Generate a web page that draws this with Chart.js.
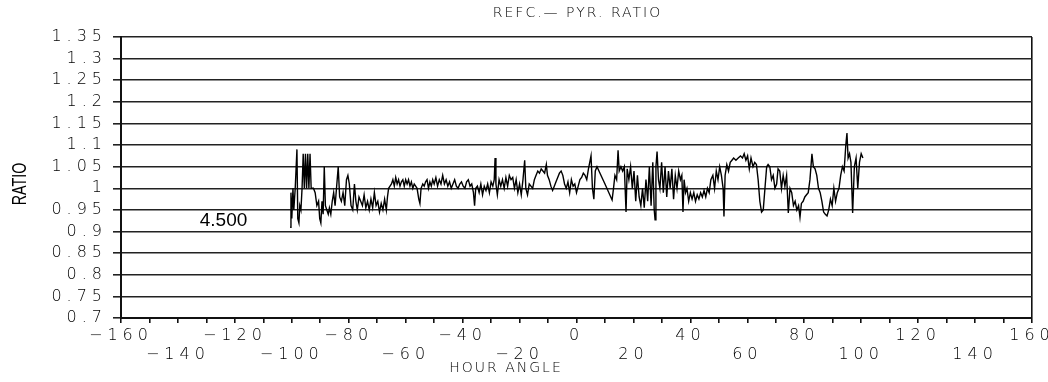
<!DOCTYPE html>
<html>
<head>
<meta charset="utf-8">
<script src="https://cdn.jsdelivr.net/npm/chart.js@4.4.1/dist/chart.umd.min.js"></script>
<style>
  html, body { margin: 0; padding: 0; background: #fff; }
  #wrap { width: 1048px; height: 382px; }
</style>
</head>
<body>
<div id="wrap"><canvas id="ratioChart" width="1048" height="382"></canvas></div>
<script>
// hour angle / ratio readings
const hourAngle = [
  -100.6, -100.3, -100.0, -99.6, -99.3, -98.8, -98.2, -97.9, -97.5, -97.2,
  -96.8, -96.4, -96.0, -95.6, -95.2, -94.8, -94.4, -94.0, -93.6, -93.2,
  -92.4, -91.8, -91.2, -90.6, -90.2, -89.8, -89.4, -89.0, -88.6, -88.2,
  -87.7, -87.2, -86.8, -86.3, -85.8, -85.3, -84.8, -84.3, -83.7, -83.2,
  -82.6, -82.0, -81.4, -80.8, -80.3, -79.8, -79.2, -78.6, -78.0, -77.5,
  -77.0, -76.4, -75.8, -75.2, -74.6, -74.0, -73.4, -72.8, -72.2, -71.6,
  -71.0, -70.4, -69.8, -69.2, -68.6, -68.0, -67.4, -66.8, -66.4, -66.0,
  -65.5, -65.0, -64.5, -64.0, -63.5, -63.0, -62.5, -62.0, -61.5, -61.0,
  -60.5, -60.0, -59.5, -59.0, -58.5, -58.0, -57.5, -57.0, -56.5, -56.0,
  -55.4, -55.0, -54.6, -54.0, -53.5, -53.0, -52.5, -52.0, -51.5, -51.0,
  -50.5, -50.0, -49.4, -48.8, -48.2, -47.6, -47.0, -46.4, -45.8, -45.2,
  -44.6, -44.0, -43.4, -42.8, -42.2, -41.6, -41.0, -40.4, -39.8, -39.2,
  -38.6, -38.0, -37.4, -36.8, -36.2, -35.8, -35.4, -34.8, -34.2, -33.6,
  -33.0, -32.4, -31.8, -31.2, -30.6, -30.0, -29.4, -28.9, -28.6, -28.3,
  -27.8, -27.2, -26.6, -26.0, -25.4, -24.8, -24.2, -23.6, -23.0, -22.4,
  -21.8, -21.2, -20.6, -20.0, -19.4, -18.8, -18.2, -17.8, -17.2, -16.6,
  -16.0, -15.4, -14.8, -14.2, -13.6, -13.0, -12.4, -11.8, -11.2, -10.6,
  -10.2, -9.6, -9.0, -8.4, -7.8, -7.2, -6.6, -6.0, -5.4, -4.8,
  -4.2, -3.6, -3.0, -2.4, -1.8, -1.2, -0.6, 0.0, 0.6, 1.2,
  1.8, 2.4, 3.0, 3.6, 4.2, 5.1, 5.6, 6.1, 6.6, 7.2,
  10.0, 12.5, 13.0, 13.5, 14.1, 14.6, 15.0, 15.6, 16.2, 16.8,
  17.4, 17.8, 18.4, 19.0, 19.6, 20.2, 20.8, 21.4, 22.0, 22.6,
  23.2, 23.8, 24.4, 25.0, 25.6, 26.2, 26.8, 27.3, 27.6, 27.9,
  28.3, 28.8, 29.3, 29.9, 30.5, 31.1, 31.7, 32.3, 32.9, 33.5,
  34.1, 34.7, 35.3, 35.9, 36.5, 37.0, 37.4, 37.8, 38.3, 38.8,
  39.4, 40.0, 40.6, 41.2, 41.8, 42.4, 43.0, 43.6, 44.2, 44.8,
  45.4, 46.0, 46.6, 47.2, 47.9, 48.5, 49.1, 49.7, 50.3, 50.9,
  51.5, 51.8, 52.2, 52.8, 53.4, 54.0, 54.6, 55.2, 56.0, 56.8,
  57.6, 58.3, 58.9, 59.5, 60.1, 60.7, 61.3, 62.0, 62.6, 63.2,
  63.8, 64.4, 65.0, 65.6, 66.2, 66.8, 67.3, 67.9, 68.5, 69.1,
  69.7, 70.3, 70.8, 71.4, 72.0, 72.6, 73.2, 73.8, 74.4, 75.0,
  75.6, 76.2, 76.8, 77.4, 78.0, 78.5, 79.0, 79.6, 80.2, 80.8,
  81.4, 82.0, 82.7, 83.2, 83.8, 84.4, 85.0, 85.6, 86.2, 86.8,
  87.4, 88.0, 88.6, 89.2, 89.8, 90.4, 91.0, 91.6, 92.2, 92.8,
  93.4, 94.0, 94.6, 95.0, 95.4, 95.9, 96.4, 97.0, 97.6, 98.2,
  98.8, 99.4, 100.0, 100.6
];

const ratio = [
  0.91, 0.99, 0.93, 1.00, 0.95, 1.00, 1.09, 0.93, 0.92, 0.96,
  0.95, 1.00, 1.08, 1.00, 1.08, 1.00, 1.08, 1.00, 1.08, 1.00,
  1.00, 0.99, 0.96, 0.97, 0.93, 0.92, 0.97, 0.94, 1.05, 0.96,
  0.95, 0.94, 0.955, 0.94, 0.97, 0.99, 0.96, 1.00, 1.05, 0.98,
  0.97, 0.99, 0.96, 1.02, 1.03, 1.01, 0.96, 0.95, 1.01, 0.97,
  0.95, 0.98, 0.97, 0.96, 0.985, 0.955, 0.97, 0.95, 0.975, 0.955,
  0.99, 0.96, 0.97, 0.945, 0.965, 0.95, 0.975, 0.95, 0.98, 1.00,
  1.005, 1.01, 1.02, 1.005, 1.025, 1.01, 1.02, 1.005, 1.015, 1.02,
  1.005, 1.02, 1.01, 1.02, 1.005, 1.015, 1.00, 1.01, 1.005, 1.00,
  0.975, 0.965, 1.00, 1.01, 1.005, 1.015, 1.02, 1.00, 1.015, 1.005,
  1.02, 1.01, 1.025, 1.005, 1.02, 1.01, 1.03, 1.01, 1.02, 1.005,
  1.015, 1.00, 1.01, 1.02, 1.005, 1.00, 1.01, 1.015, 1.005, 1.00,
  1.015, 1.02, 1.005, 1.01, 0.99, 0.96, 1.00, 1.005, 0.99, 1.01,
  0.985, 1.005, 0.995, 1.01, 0.99, 1.015, 1.005, 1.02, 1.07, 1.01,
  0.985, 1.02, 1.005, 1.02, 1.00, 1.025, 1.005, 1.03, 1.02, 1.025,
  1.00, 1.02, 0.99, 1.01, 0.985, 1.02, 1.065, 1.00, 0.985, 1.01,
  1.005, 1.00, 1.02, 1.03, 1.04, 1.035, 1.045, 1.04, 1.035, 1.055,
  1.03, 1.02, 1.005, 0.995, 1.005, 1.015, 1.025, 1.035, 1.04, 1.03,
  1.01, 1.00, 1.015, 0.99, 1.02, 1.005, 1.01, 0.99, 1.005, 1.02,
  1.025, 1.035, 1.03, 1.02, 1.045, 1.075, 1.00, 0.975, 1.04, 1.05,
  1.01, 0.973, 1.00, 1.03, 1.02, 1.088, 1.04, 1.05, 1.04, 1.05,
  0.945, 1.045, 1.02, 1.05, 1.00, 1.04, 0.97, 1.03, 0.98, 0.96,
  1.00, 0.955, 1.02, 0.97, 1.05, 0.96, 1.06, 0.95, 0.927, 1.05,
  1.085, 1.02, 1.00, 1.06, 0.99, 1.05, 0.98, 1.04, 1.00, 1.045,
  0.975, 1.03, 1.00, 1.04, 1.02, 1.03, 0.945, 1.02, 0.99, 1.00,
  0.97, 0.99, 0.975, 0.99, 0.97, 0.985, 0.975, 0.99, 0.98, 0.995,
  0.98, 1.00, 0.99, 1.02, 1.03, 1.00, 1.04, 1.02, 1.05, 1.03,
  1.00, 0.935, 1.03, 1.055, 1.04, 1.06, 1.065, 1.07, 1.065, 1.07,
  1.075, 1.07, 1.08, 1.065, 1.075, 1.045, 1.07, 1.05, 1.06, 1.055,
  1.02, 0.97, 0.945, 0.95, 1.00, 1.05, 1.055, 1.05, 1.02, 1.03,
  1.00, 1.01, 1.045, 1.04, 1.00, 1.03, 1.005, 1.03, 0.943, 1.00,
  0.99, 0.96, 0.97, 0.95, 0.96, 0.933, 0.965, 0.97, 0.98, 0.985,
  0.99, 1.02, 1.08, 1.05, 1.045, 1.03, 1.00, 0.99, 0.97, 0.945,
  0.94, 0.936, 0.95, 0.975, 0.96, 1.00, 0.97, 0.99, 1.00, 1.03,
  1.05, 1.04, 1.10, 1.128, 1.07, 1.08, 1.06, 0.943, 1.05, 1.07,
  1.00, 1.06, 1.08, 1.07
];

// tick labels
const yTickLabels = ['0.7', '0.75', '0.8', '0.85', '0.9', '0.95', '1',
  '1.05', '1.1', '1.15', '1.2', '1.25', '1.3', '1.35'];
const xTopRow = ['\u2212160', '\u2212120', '\u221280', '\u221240', '0', '40', '80', '120', '160'];
const xLowRow = ['\u2212140', '\u2212100', '\u221260', '\u221220', '20', '60', '100', '140'];

const chartTitle = 'REFC.\u2014 PYR. RATIO';
const xTitle = 'HOUR ANGLE';
const yTitle = 'RATIO';
const note = { hour: -124, ratio: 0.926, text: '4.500' };

const points = hourAngle.map((h, i) => ({ x: h, y: ratio[i] }));

const tickFont = { family: 'DejaVu Sans', size: 16, weight: '200' };

const textPlugin = {
  id: 'plotText',
  beforeDraw(chart) {
    // wide spacing like the old plotter font
    chart.ctx.letterSpacing = '5px';
  },
  afterDraw(chart) {
    const ctx = chart.ctx;
    const area = chart.chartArea;
    ctx.save();
    ctx.fillStyle = '#000';
    ctx.textAlign = 'center';
    ctx.textBaseline = 'middle';

    ctx.letterSpacing = '2px';
    ctx.font = '200 14px "DejaVu Sans"';
    ctx.fillText(chartTitle, (area.left + area.right) / 2 + 1, 13);
    ctx.fillText(xTitle, 506, 368);

    ctx.letterSpacing = '0px';
    ctx.font = '19px "Liberation Sans"';
    const xs = chart.scales.x, ys = chart.scales.y;
    ctx.fillText(note.text, xs.getPixelForValue(note.hour), ys.getPixelForValue(note.ratio));

    // narrow, tall axis name
    ctx.translate(20, 184);
    ctx.rotate(-Math.PI / 2);
    ctx.scale(0.68, 1);
    ctx.font = '21px "Liberation Sans"';
    ctx.fillText(yTitle, 0, 0);
    ctx.restore();
    ctx.letterSpacing = '5px';
  }
};

new Chart(document.getElementById('ratioChart'), {
  type: 'line',
  data: {
    datasets: [{
      data: points,
      borderColor: '#000',
      borderWidth: 1.4,
      pointRadius: 0,
      tension: 0,
      fill: false
    }]
  },
  options: {
    responsive: false,
    animation: false,
    events: [],
    layout: { padding: { left: 0, top: 37, right: 16, bottom: 0 } },
    plugins: { legend: { display: false }, tooltip: { enabled: false } },
    scales: {
      x: {
        type: 'linear',
        min: -160,
        max: 160,
        afterFit(scale) {
          scale.height = 64;
          scale.paddingLeft = 0;
          scale.paddingRight = 0;
        },
        border: { display: true, color: '#111', width: 2 },
        grid: {
          drawOnChartArea: true,
          tickLength: 5,
          lineWidth: 1.6,
          color: ctx => (ctx.tick && ctx.tick.value === 160 ? '#111' : 'rgba(0,0,0,0)'),
          tickColor: '#111'
        },
        ticks: {
          stepSize: 10,
          autoSkip: false,
          maxRotation: 0,
          minRotation: 0,
          padding: 3,
          color: '#000',
          font: tickFont,
          callback(value, index) {
            if (index % 4 === 0) return xTopRow[index / 4];
            if (index % 4 === 2) return ['', xLowRow[(index - 2) / 4]];
            return '';
          }
        }
      },
      y: {
        min: 0.7,
        max: 1.35,
        afterFit(scale) {
          scale.width = 121;
        },
        border: { display: true, color: '#111', width: 2 },
        grid: {
          color: '#222',
          lineWidth: 1.6,
          tickLength: 8,
          tickColor: '#222'
        },
        ticks: {
          stepSize: 0.05,
          autoSkip: false,
          padding: 6,
          color: '#000',
          font: tickFont,
          callback(value, index) {
            return yTickLabels[index];
          }
        }
      }
    }
  },
  plugins: [textPlugin]
});
</script>
</body>
</html>
